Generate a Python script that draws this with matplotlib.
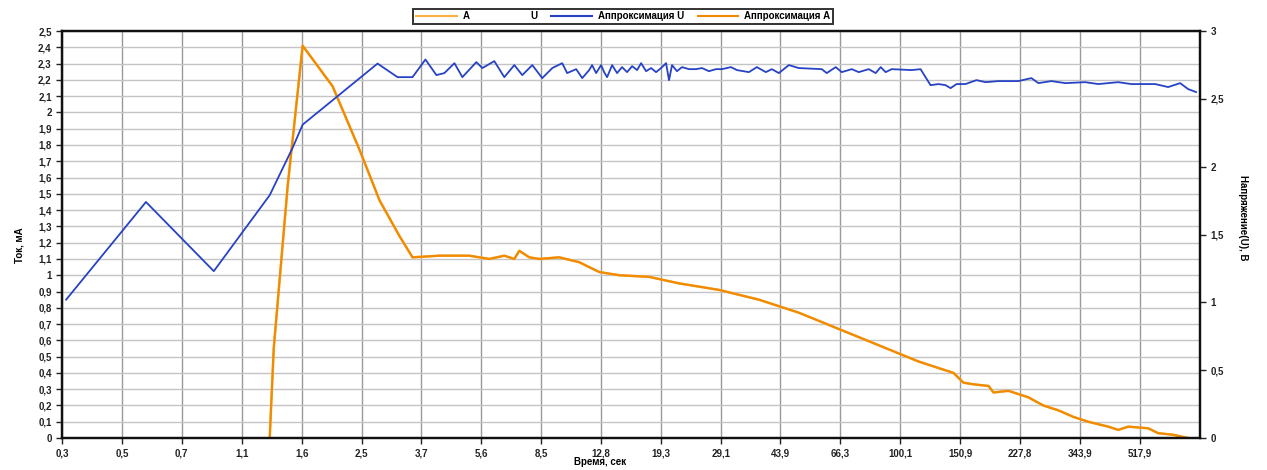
import matplotlib
matplotlib.use('Agg')
import matplotlib.pyplot as plt
from matplotlib.lines import Line2D

plt.rcParams['font.family'] = ['Liberation Sans', 'DejaVu Sans']

# x axis: time, s (log-spaced samples)
tick_times = [0.319, 0.481, 0.725, 1.094, 1.65, 2.49, 3.75, 5.66, 8.53, 12.86,
              19.4, 29.2, 44.0, 66.4, 100.2, 151.0, 227.7, 343.4, 517.9]
tick_labels = ['0,3', '0,5', '0,7', '1,1', '1,6', '2,5', '3,7', '5,6', '8,5', '12,8',
               '19,3', '29,1', '43,9', '66,3', '100,1', '150,9', '227,8', '343,9', '517,9']

# approximation of U, V (right axis)
u_time = [0.328, 0.567, 0.903, 1.325, 1.551, 1.661, 2.040, 2.776, 3.184, 3.528,
          3.855, 4.157, 4.391, 4.703, 4.967, 5.466, 5.695, 6.183, 6.622, 7.092,
          7.491, 8.022, 8.590, 9.20, 9.85, 10.19, 10.84, 11.30, 11.85, 12.09,
          12.43, 12.86, 13.13, 13.40, 13.87, 14.35, 14.85, 15.37, 15.91, 16.46,
          16.92, 17.51, 18.12, 18.75, 19.40, 20.08, 20.49, 20.92, 21.64, 22.40,
          23.50, 24.66, 25.69, 26.95, 28.27, 29.45, 31.33, 32.65, 35.44, 37.43,
          39.81, 41.48, 43.52, 46.61, 49.90, 58.41, 60.44, 64.28, 66.98, 71.74,
          75.27, 80.60, 84.56, 87.50, 90.55, 94.35, 108.2, 115.0, 119.0, 123.2,
          130.1, 136.5, 141.3, 147.2, 156.5, 168.8, 179.6, 196.3, 225.0, 246.0,
          258.1, 282.1, 310.4, 356.0, 389.1, 446.3, 487.7, 575.0, 628.5, 682.3,
          720.7, 761.2]
u_val = [1.02, 1.74, 1.23, 1.79, 2.14, 2.31, 2.49, 2.76, 2.66, 2.66,
         2.79, 2.675, 2.69, 2.763, 2.66, 2.771, 2.727, 2.778, 2.66, 2.749,
         2.675, 2.749, 2.653, 2.727, 2.763, 2.690, 2.719, 2.653, 2.712, 2.749,
         2.690, 2.749, 2.697, 2.660, 2.749, 2.690, 2.734, 2.697, 2.741, 2.712,
         2.763, 2.704, 2.727, 2.697, 2.727, 2.763, 2.638, 2.749, 2.704, 2.734,
         2.719, 2.719, 2.727, 2.704, 2.719, 2.719, 2.734, 2.712, 2.697, 2.734,
         2.697, 2.719, 2.690, 2.749, 2.727, 2.719, 2.690, 2.734, 2.697, 2.719,
         2.697, 2.719, 2.690, 2.734, 2.697, 2.719, 2.712, 2.719, 2.660, 2.601,
         2.609, 2.601, 2.579, 2.609, 2.609, 2.638, 2.623, 2.631, 2.631, 2.653,
         2.616, 2.631, 2.616, 2.623, 2.609, 2.623, 2.609, 2.609, 2.587, 2.616,
         2.572, 2.550]

# current A, mA (left axis)
a_time = [1.325, 1.362, 1.499, 1.661, 2.040, 2.454, 2.814, 3.228, 3.528, 4.243,
          5.211, 5.975, 6.622, 7.092, 7.339, 7.859, 8.415, 9.650, 11.07, 11.85,
          12.69, 14.55, 17.87, 21.95, 25.17, 28.86, 33.09, 37.95, 43.52, 49.90,
          57.23, 65.62, 75.27, 86.31, 98.95, 113.5, 130.1, 144.2, 154.4, 165.4,
          183.3, 189.7, 210.2, 240.9, 267.0, 296.0, 328.0, 363.4, 416.8, 446.3,
          477.8, 547.9, 586.8, 650.3, 720.7]
a_val = [0.0, 0.55, 1.55, 2.41, 2.16, 1.77, 1.46, 1.24, 1.11, 1.12,
         1.12, 1.10, 1.12, 1.10, 1.15, 1.11, 1.10, 1.11, 1.08, 1.05,
         1.02, 1.00, 0.99, 0.95, 0.93, 0.91, 0.88, 0.85, 0.81, 0.77,
         0.72, 0.67, 0.62, 0.57, 0.52, 0.47, 0.43, 0.40, 0.34, 0.33,
         0.32, 0.28, 0.29, 0.25, 0.20, 0.17, 0.13, 0.10, 0.07, 0.05,
         0.07, 0.06, 0.03, 0.02, 0.0]

left_ticks = [i / 10 for i in range(26)]
left_labels = ['0' if v == 0 else f'{v:g}'.replace('.', ',') for v in left_ticks]
right_ticks = [0, 0.5, 1, 1.5, 2, 2.5, 3]
right_labels = ['0', '0,5', '1', '1,5', '2', '2,5', '3']

fig = plt.figure(figsize=(12.67, 4.70), dpi=100)
ax = fig.add_axes([0.049, 0.068, 0.898, 0.866])
ax2 = ax.twinx()

ax.set_xscale('log')
ax.set_xlim(0.319, 781)
ax.set_ylim(0, 2.5)
ax2.set_ylim(0, 3)

ax.set_xticks(tick_times)
ax.set_xticklabels(tick_labels)
ax.xaxis.set_minor_locator(matplotlib.ticker.NullLocator())
ax.set_yticks(left_ticks)
ax.set_yticklabels(left_labels)
ax2.set_yticks(right_ticks)
ax2.set_yticklabels(right_labels)

for a in (ax, ax2):
    a.tick_params(labelsize=7, width=1, length=4, colors='#222222')
    for lab in a.get_xticklabels() + a.get_yticklabels():
        lab.set_fontweight('bold')
    for s in a.spines.values():
        s.set_linewidth(1.6)
        s.set_color('#111111')

ax.grid(axis='y', color='#c4c4c4', linewidth=1.0)
ax.grid(axis='x', color='#999999', linewidth=1.0)
ax.set_axisbelow(True)

ax.plot(a_time, a_val, color='#FBB040', linewidth=1.8, label='A')
ax.plot(a_time, a_val, color='#F08A00', linewidth=1.5)
ax2.plot(u_time, u_val, color='#2743C4', linewidth=1.3)

handles = [
    Line2D([], [], color='#FBB040', linewidth=1.5),
    Line2D([], [], color='none'),
    Line2D([], [], color='#2743C4', linewidth=1.5),
    Line2D([], [], color='#F08A00', linewidth=1.5),
]
labels = ['А', 'U', 'Аппроксимация U', 'Аппроксимация А']
leg = fig.legend(handles, labels, loc='center', bbox_to_anchor=(0.492, 0.965),
                 ncol=4, fontsize=7, frameon=True, fancybox=False,
                 edgecolor='black', borderpad=0.3, handlelength=4.2,
                 columnspacing=1.4, handletextpad=0.6)
leg.get_frame().set_linewidth(1.4)
for t in leg.get_texts():
    t.set_fontweight('bold')

fig.text(0.015, 0.479, 'Ток, мА', rotation=90, ha='center', va='center',
         fontsize=7, fontweight='bold')
fig.text(0.981, 0.536, 'Напряжение(U), В', rotation=270, ha='center', va='center',
         fontsize=7, fontweight='bold')
fig.text(0.474, 0.018, 'Время, сек', ha='center', va='center',
         fontsize=7, fontweight='bold')

fig.savefig('out.png', dpi=100)
